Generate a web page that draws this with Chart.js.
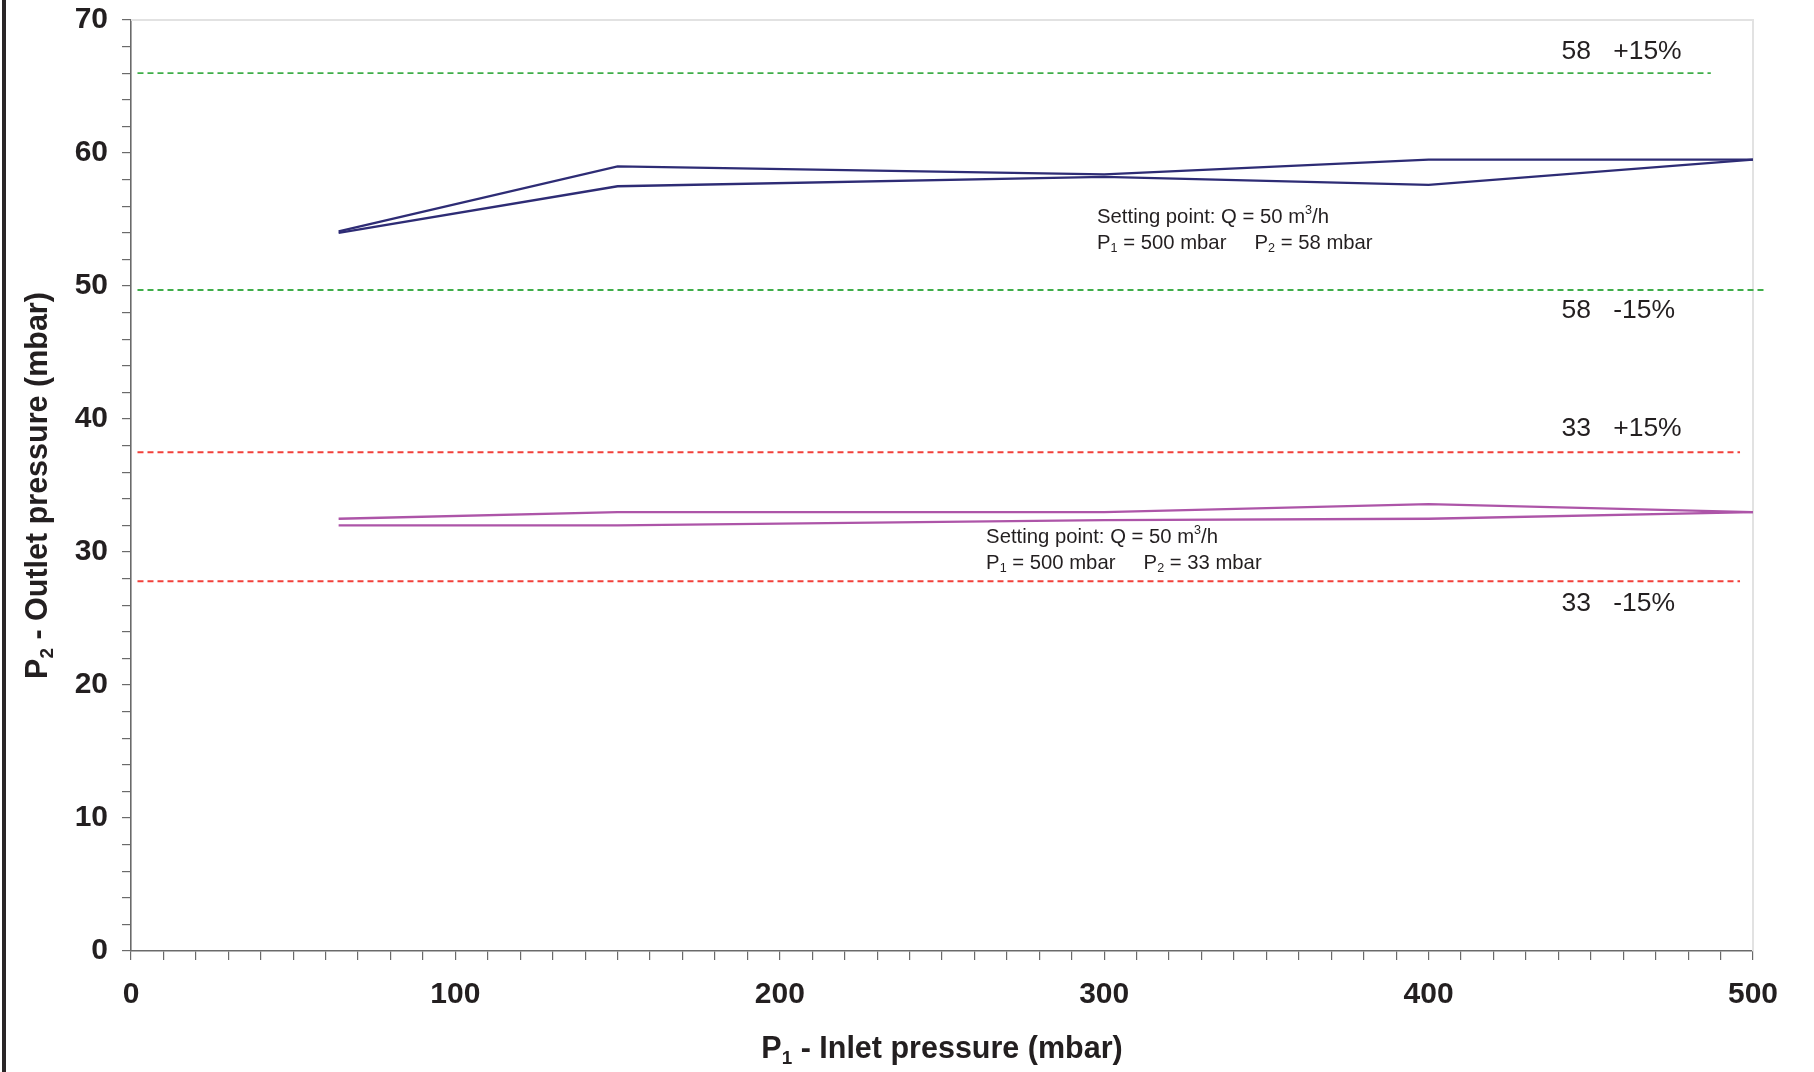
<!DOCTYPE html>
<html>
<head>
<meta charset="utf-8">
<script src="https://cdn.jsdelivr.net/npm/chart.js@4/dist/chart.umd.min.js"></script>
<style>
  html, body { margin: 0; padding: 0; background: #fff; }
  #wrap { position: relative; width: 1814px; height: 1072px; }
  #frame { position: absolute; left: 2px; top: 0; width: 4px; height: 1072px; background: #2a2627; }
  #chart { position: absolute; left: 0; top: 0; }
</style>
</head>
<body>
<div id="wrap">
  <canvas id="chart" width="1814" height="1072"></canvas>
  <div id="frame"></div>
</div>
<script>
/* ── Data ── */
const inletP   = [64, 150, 300, 400, 500];
const p58Upper = [54.1, 59.0, 58.4, 59.5, 59.5];
const p58Lower = [54.0, 57.5, 58.2, 57.6, 59.5];
const p33Upper = [32.5, 33.0, 33.0, 33.6, 33.0];
const p33Lower = [32.0, 32.0, 32.4, 32.5, 33.0];

// tolerance bands (start/end along P1, level in mbar)
const band58HiX = [2, 487],  band58HiY = 66.0;
const band58LoX = [2, 504],  band58LoY = 49.7;
const band33HiX = [2, 496],  band33HiY = 37.5;
const band33LoX = [2, 496],  band33LoY = 27.8;

const xTicksMajor = [0, 100, 200, 300, 400, 500];
const yTicksMajor = [0, 10, 20, 30, 40, 50, 60, 70];

/* ── Styles ── */
const FONT = "'Liberation Sans', Arial, Helvetica, sans-serif";
const INK = '#231f20';
const COLORS = {
  navy: '#2e2c75',
  magenta: '#ad55a8',
  green: '#3fae49',
  red: '#f2403b',
  axis: '#6a6a6a',
  frame: '#e2e2e2',
};

function pts(xs, ys) { return xs.map((x, i) => ({ x, y: ys[i] })); }
function flat(xs, y) { return xs.map(x => ({ x, y })); }

/* ── Rich text (sub/superscripts) ── */
function drawRich(ctx, segs, x, y, size, weight, align) {
  const parts = segs.map(s => {
    const fs = (s.sub || s.sup) ? size * 0.62 : size;
    ctx.font = `${weight} ${fs}px ${FONT}`;
    return Object.assign({}, s, { fs, w: ctx.measureText(s.t).width });
  });
  const total = parts.reduce((a, p) => a + p.w, 0);
  let cx = align === 'center' ? x - total / 2 : x;
  ctx.textAlign = 'left';
  ctx.textBaseline = 'middle';
  for (const p of parts) {
    ctx.font = `${weight} ${p.fs}px ${FONT}`;
    const dy = p.sub ? size * 0.28 : p.sup ? -size * 0.32 : 0;
    ctx.fillText(p.t, cx, y + dy);
    cx += p.w;
  }
}

const bandLabels = [
  { text: '58   +15%', x: 441, y: 67.6 },
  { text: '58   -15%', x: 441, y: 48.17 },
  { text: '33   +15%', x: 441, y: 39.3 },
  { text: '33   -15%', x: 441, y: 26.1 },
];

const settingNotes = [
  { x: 297.8, y1: 55.19, y2: 53.23, p2: '58' },
  { x: 263.6, y1: 31.13, y2: 29.17, p2: '33' },
];

const decorPlugin = {
  id: 'decor',
  beforeDatasetsDraw(chart) {
    const { ctx, chartArea: a } = chart;
    ctx.save();
    ctx.strokeStyle = COLORS.frame;
    ctx.lineWidth = 2;
    ctx.beginPath();
    ctx.moveTo(a.left, a.top);
    ctx.lineTo(a.right, a.top);
    ctx.lineTo(a.right, a.bottom);
    ctx.stroke();
    ctx.restore();
  },
  afterDraw(chart) {
    const { ctx, chartArea: a, scales: { x, y } } = chart;
    ctx.save();
    ctx.fillStyle = INK;

    // band labels
    for (const b of bandLabels) {
      ctx.font = `26.5px ${FONT}`;
      ctx.textAlign = 'left';
      ctx.textBaseline = 'middle';
      ctx.fillText(b.text, x.getPixelForValue(b.x), y.getPixelForValue(b.y));
    }

    // setting point notes
    for (const n of settingNotes) {
      const px = x.getPixelForValue(n.x);
      drawRich(ctx, [
        { t: 'Setting point: Q = 50 m' }, { t: '3', sup: true }, { t: '/h' }
      ], px, y.getPixelForValue(n.y1), 20.3, 'normal', 'left');
      drawRich(ctx, [
        { t: 'P' }, { t: '1', sub: true }, { t: ' = 500 mbar     P' },
        { t: '2', sub: true }, { t: ' = ' + n.p2 + ' mbar' }
      ], px, y.getPixelForValue(n.y2), 20.3, 'normal', 'left');
    }

    // axis titles
    drawRich(ctx, [
      { t: 'P' }, { t: '1', sub: true }, { t: ' - Inlet pressure (mbar)' }
    ], (a.left + a.right) / 2, 1050, 30.5, 'bold', 'center');

    ctx.translate(39, (a.top + a.bottom) / 2);
    ctx.rotate(-Math.PI / 2);
    drawRich(ctx, [
      { t: 'P' }, { t: '2', sub: true }, { t: ' - Outlet pressure (mbar)' }
    ], 0, 0, 30.5, 'bold', 'center');
    ctx.restore();
  }
};

/* ── Chart ── */
const lineSet = (label, data, color) => ({
  label, data, borderColor: color, borderWidth: 2.3,
  pointRadius: 0, tension: 0, fill: false,
});
const dashSet = (label, data, color) => ({
  label, data, borderColor: color, borderWidth: 1.8,
  borderDash: [6, 4], pointRadius: 0, fill: false, clip: false,
});

new Chart(document.getElementById('chart'), {
  type: 'line',
  data: {
    datasets: [
      dashSet('58 +15%', flat(band58HiX, band58HiY), COLORS.green),
      dashSet('58 -15%', flat(band58LoX, band58LoY), COLORS.green),
      dashSet('33 +15%', flat(band33HiX, band33HiY), COLORS.red),
      dashSet('33 -15%', flat(band33LoX, band33LoY), COLORS.red),
      lineSet('58 upper', pts(inletP, p58Upper), COLORS.navy),
      lineSet('58 lower', pts(inletP, p58Lower), COLORS.navy),
      lineSet('33 upper', pts(inletP, p33Upper), COLORS.magenta),
      lineSet('33 lower', pts(inletP, p33Lower), COLORS.magenta),
    ]
  },
  options: {
    responsive: false,
    devicePixelRatio: 1,
    animation: false,
    layout: { padding: { top: 20, right: 61, bottom: 0, left: 0 } },
    plugins: { legend: { display: false }, tooltip: { enabled: false } },
    scales: {
      x: {
        type: 'linear', min: 0, max: 500,
        afterFit: s => { s.height = 121; s.paddingLeft = 0; s.paddingRight = 0; },
        grid: { drawOnChartArea: false, drawTicks: true, tickLength: 9, color: COLORS.axis, lineWidth: 1.2 },
        border: { display: true, color: COLORS.axis, width: 1.6 },
        ticks: {
          stepSize: 10, autoSkip: false, maxRotation: 0, padding: 17,
          color: INK, font: { family: FONT, size: 30, weight: 'bold' },
          callback: v => xTicksMajor.includes(v) ? String(v) : '',
        },
      },
      y: {
        type: 'linear', min: 0, max: 70,
        afterFit: s => { s.width = 131; s.paddingTop = 0; s.paddingBottom = 0; },
        grid: { drawOnChartArea: false, drawTicks: true, tickLength: 9, color: COLORS.axis, lineWidth: 1.2 },
        border: { display: true, color: COLORS.axis, width: 1.6 },
        ticks: {
          stepSize: 2, autoSkip: false, padding: 14,
          color: INK, font: { family: FONT, size: 30, weight: 'bold' },
          callback: v => yTicksMajor.includes(v) ? String(v) : '',
        },
      },
    },
  },
  plugins: [decorPlugin],
});
</script>
</body>
</html>
